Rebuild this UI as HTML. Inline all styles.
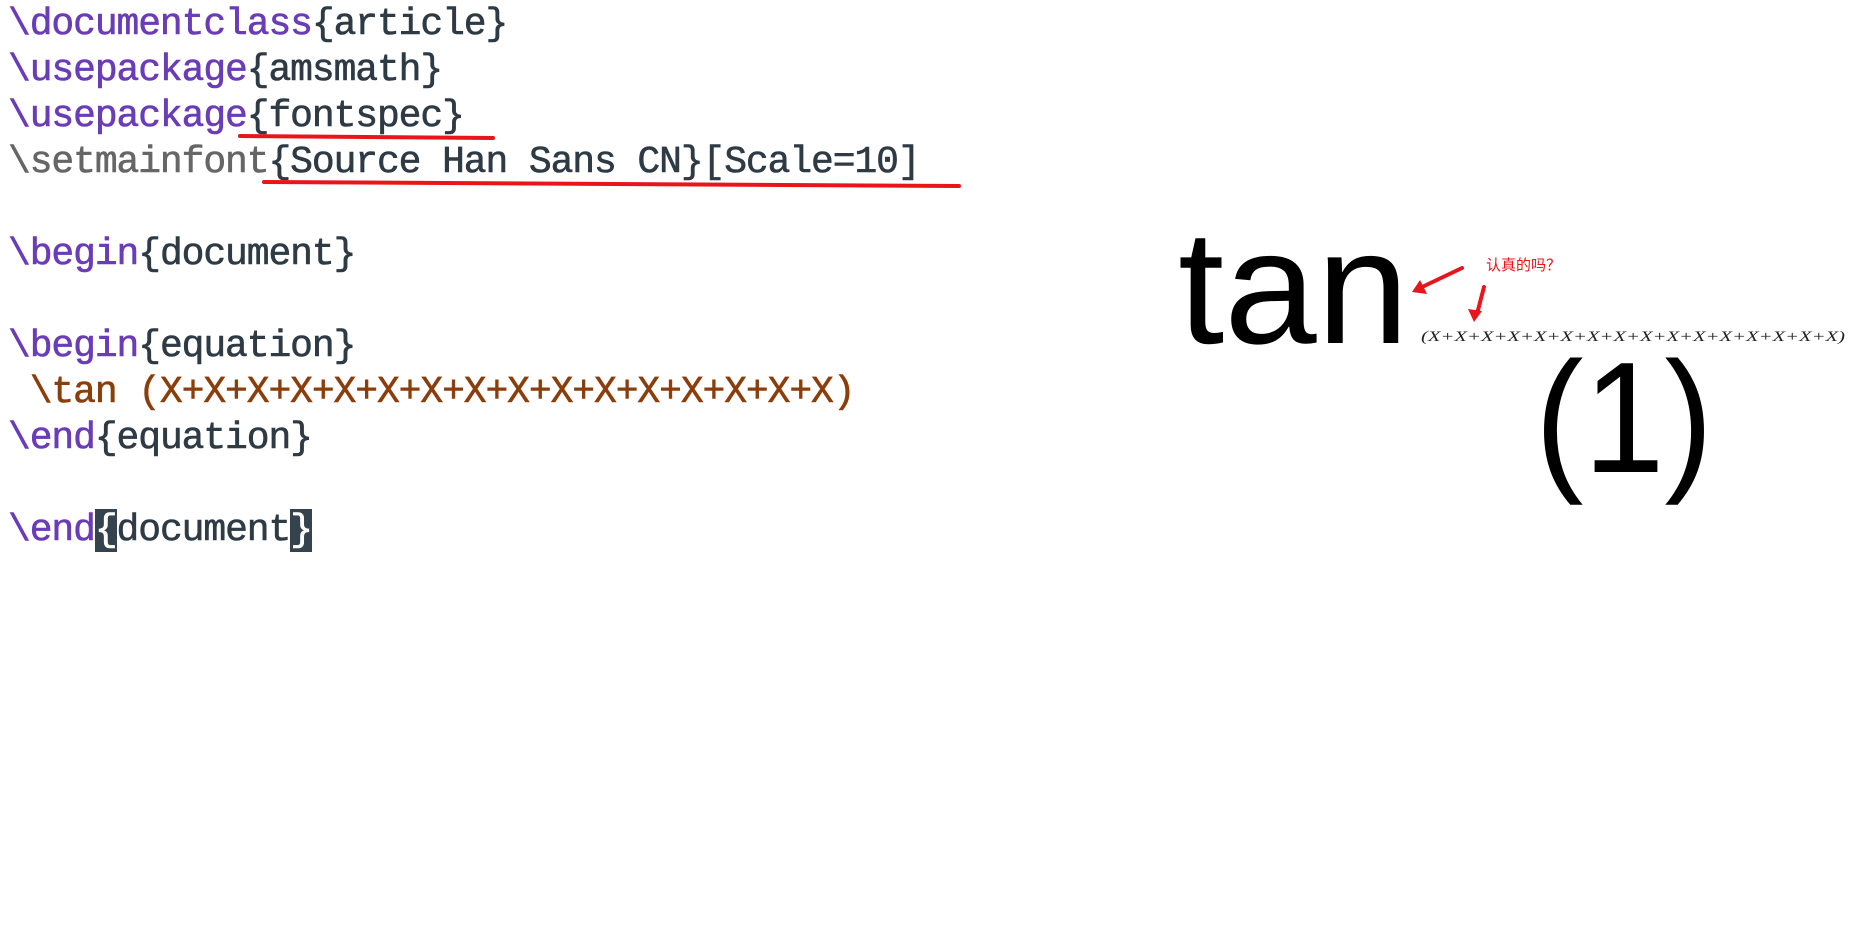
<!DOCTYPE html>
<html><head><meta charset="utf-8"><style>
html,body{margin:0;padding:0;background:#fff;width:1857px;height:929px;overflow:hidden;position:relative}
.code{position:absolute;left:8px;top:2px;font-family:"Liberation Mono",monospace;font-size:38px;letter-spacing:-1.1px;line-height:46px;white-space:pre;color:#2e3a44;margin:0;-webkit-text-stroke:0.6px currentColor}
.p{color:#6a3cb8}.g{color:#666}.b{color:#8a3e0c}
.hl{background:#34434d;color:#fff}
.abs{position:absolute}
</style></head><body>
<pre class="code"><span class="p">\documentclass</span>{article}
<span class="p">\usepackage</span>{amsmath}
<span class="p">\usepackage</span>{fontspec}
<span class="g">\setmainfont</span>{Source Han Sans CN}[Scale=10]

<span class="p">\begin</span>{document}

<span class="p">\begin</span>{equation}
<span class="b"> \tan (X+X+X+X+X+X+X+X+X+X+X+X+X+X+X+X)</span>
<span class="p">\end</span>{equation}

<span class="p">\end</span><span class="hl">{</span>document<span class="hl">}</span></pre>
<svg class="abs" style="left:0;top:0" width="1857" height="929">
<line x1="240" y1="136" x2="493" y2="138" stroke="#e8161b" stroke-width="4" stroke-linecap="round"/>
<line x1="264" y1="182" x2="959" y2="186" stroke="#e8161b" stroke-width="4" stroke-linecap="round"/>
<text x="1178" y="343" font-family="Liberation Sans, sans-serif" font-size="162" textLength="231" lengthAdjust="spacingAndGlyphs">tan</text>
<text x="1421" y="341" font-family="Liberation Serif, serif" font-style="italic" font-size="15" fill="#222" textLength="424" lengthAdjust="spacingAndGlyphs">(X+X+X+X+X+X+X+X+X+X+X+X+X+X+X+X)</text>
<text x="1535" y="472" font-family="Liberation Sans, sans-serif" font-size="158" textLength="178" lengthAdjust="spacingAndGlyphs">(1)</text>
<text x="1486" y="270" fill="#e8161b" font-family="Noto Sans CJK SC, sans-serif" font-size="15">认真的吗？</text>
<g stroke="#e8161b" stroke-width="4" fill="none" stroke-linecap="round">
<line x1="1462" y1="268" x2="1420" y2="288"/>
<line x1="1484" y1="287" x2="1477" y2="314"/>
</g>
<g fill="#e8161b">
<polygon points="1412,292 1420,280 1427,294"/>
<polygon points="1474,322 1468,309 1482,311"/>
</g>
</svg>
</body></html>
